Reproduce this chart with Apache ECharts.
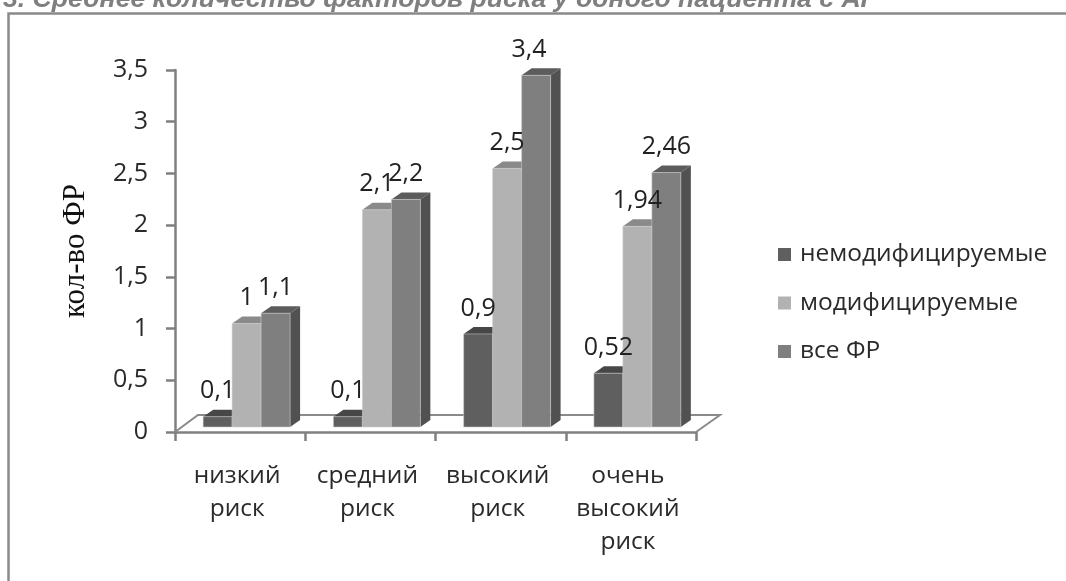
<!DOCTYPE html>
<html><head><meta charset="utf-8">
<style>html,body{margin:0;padding:0;background:#fff}#c{width:1066px;height:581px}</style>
<script src="https://cdn.jsdelivr.net/npm/echarts@6/dist/echarts.min.js"></script>
</head><body><div id="c"></div>
<script>
const categories = ['низкий\nриск','средний\nриск','высокий\nриск','очень\nвысокий\nриск'];
const seriesNames = ['немодифицируемые','модифицируемые','все ФР'];
const nonModifiable = [0.1,0.1,0.9,0.52];
const modifiable = [1,2.1,2.5,1.94];
const allFactors = [1.1,2.2,3.4,2.46];
const faces = [
  {front:'#5f5f5f',top:'#474747',side:'#4a4a4a'},
  {front:'#b2b2b2',top:'#8a8a8a',side:'#8a8a8a'},
  {front:'#7f7f7f',top:'#5c5c5c',side:'#515151'}
];
const DX=10, DY=7, BASE=5, SHIFT=6.5, FONT='"Open Sans", sans-serif';
const chart = echarts.init(document.getElementById('c'),null,{renderer:'canvas'});
function bar(k){
  return function(params,api){
    const idx=api.value(0), v=api.value(1);
    const p=api.coord([idx,v]), p0=api.coord([idx,0]);
    const cw=api.size([1,0])[0], w=cw*0.2225;
    const l=p[0]+SHIFT-1.5*w+k*w, r=l+w, t=p[1]-BASE, b=p0[1]-BASE;
    const f=faces[k];
    const nudge=(k===2&&v>3)?-7:0;
    return {type:'group',children:[
      {type:'polygon',shape:{points:[[r,t],[r+DX,t-DY],[r+DX,b-DY],[r,b]]},style:{fill:f.side}},
      {type:'polygon',shape:{points:[[l,t],[l+DX,t-DY],[r+DX,t-DY],[r,t]]},style:{fill:f.top}},
      {type:'rect',shape:{x:l,y:t,width:w,height:b-t},style:{fill:f.front,stroke:'rgba(205,205,205,0.55)',lineWidth:1}},
      {type:'text',z2:100,style:{x:(l+r)/2+nudge,y:t-25.5,text:String(v).replace('.',','),align:'center',verticalAlign:'middle',
        font:'25px '+FONT,fill:'#222'}}
    ]};
  };
}
function floor(params,api){
  const c=params.coordSys, b=c.y+c.height;
  return {type:'polyline',shape:{points:[[c.x,b],[c.x+23,b-17],[c.x+c.width+24,b-17],[c.x+c.width,b]]},
    style:{fill:null,stroke:'#8a8a8a',lineWidth:2}};
}
function mk(name,k,vals){
  return {name,type:'custom',renderItem:bar(k),itemStyle:{color:faces[k].front},
    encode:{x:0,y:1},data:vals.map((v,i)=>[i,v]),clip:false,z:3};
}
chart.setOption({
  animation:false,
  backgroundColor:'#fff',
  grid:{left:175,right:370,top:70,bottom:149},
  xAxis:{type:'category',data:categories,boundaryGap:true,
    axisLine:{show:true,lineStyle:{color:'#808080',width:2.5}},
    axisTick:{show:true,alignWithLabel:false,interval:0,length:9,lineStyle:{color:'#808080',width:2.5}},
    axisLabel:{color:'#2a2a2a',fontSize:24.5,fontFamily:'"Open Sans", sans-serif',lineHeight:33,margin:28,interval:0,padding:[0,6,0,0]}},
  yAxis:{type:'value',min:0,max:3.5,interval:0.5,
    name:'кол-во ФР',nameLocation:'middle',nameGap:84,
    nameTextStyle:{color:'#111',fontSize:31,fontFamily:'"Liberation Serif", serif'},
    axisLine:{show:true,lineStyle:{color:'#808080',width:2.5}},
    axisTick:{show:true,length:9,lineStyle:{color:'#808080',width:2.5}},
    splitLine:{show:false},
    axisLabel:{color:'#2a2a2a',fontSize:25,fontFamily:'"Open Sans", sans-serif',margin:27,
      formatter:v=>String(v).replace('.',',')}},
  legend:{orient:'vertical',left:778,top:242,itemWidth:13,itemHeight:13,itemGap:23.5,icon:'rect',padding:0,
    data:seriesNames,selectedMode:false,
    textStyle:{color:'#2a2a2a',fontSize:24.5,fontFamily:'"Open Sans", sans-serif',padding:[0,0,0,4]}},
  graphic:[
    {type:'polyline',silent:true,shape:{points:[[1066,13.5],[8.5,13.5],[8.5,581]]},style:{fill:null,stroke:'#8a8a8a',lineWidth:2.5}},
    {type:'text',silent:true,style:{x:3,y:13,text:'3. Среднее количество факторов риска у одного пациента с АГ',
      font:'italic bold 26.6px "Liberation Sans", Arial, sans-serif',fill:'#7f7f7f',verticalAlign:'bottom'}}
  ],
  series:[
    {type:'custom',renderItem:floor,data:[[0,0]],encode:{x:0,y:1},silent:true,clip:false,z:1},
    mk(seriesNames[0],0,nonModifiable),
    mk(seriesNames[1],1,modifiable),
    mk(seriesNames[2],2,allFactors)
  ]
});
</script></body></html>
